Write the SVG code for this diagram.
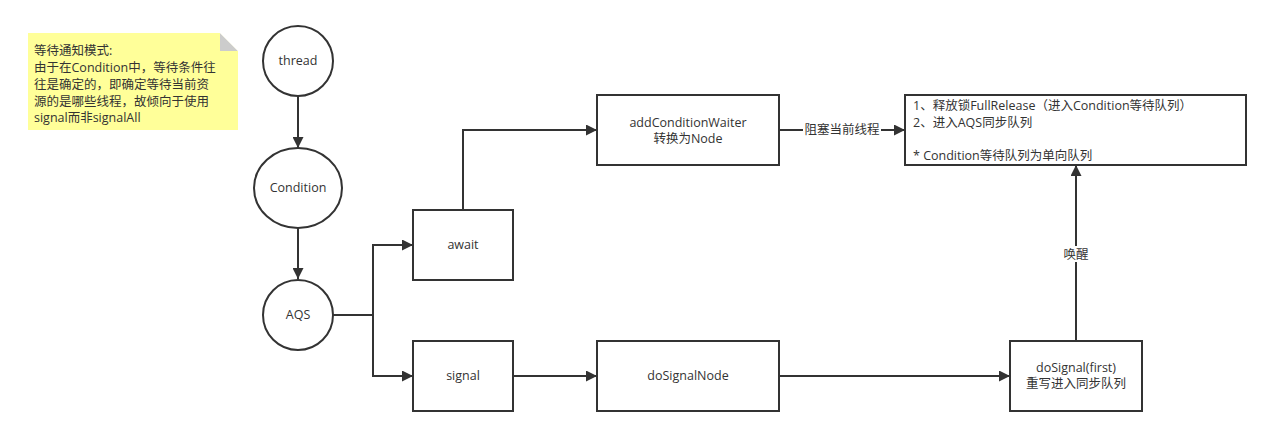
<svg xmlns="http://www.w3.org/2000/svg" width="1272" height="436" viewBox="0 0 1272 436">
<style>
.s{fill:#ffffff;stroke:#333333;stroke-width:2}
.c{fill:none;stroke:#333333;stroke-width:2}
text{font-family:"Open Sans","Noto Sans CJK SC",sans-serif;font-size:12.5px;fill:#333333}
.m{text-anchor:middle}
</style>
<defs>
<marker id="a" viewBox="0 0 10 10" refX="10" refY="5" markerWidth="5.5" markerHeight="5.5" orient="auto" markerUnits="strokeWidth">
<path d="M0,0 L10,5 L0,10 Z" fill="#333333"/>
</marker>
</defs>
<rect width="1272" height="436" fill="#ffffff"/>
<g id="note">
<path d="M28,33 L220,33 L238,51 L238,130 L28,130 Z" fill="#ffff99" stroke="none"/>
<path d="M220,33 L238,51 L220,51 Z" fill="#cccccc"/>
<path d="M220,33 L238,51 L238,33 Z" fill="#ffffff"/>
<text x="34" y="55">等待通知模式:</text>
<text x="34" y="72">由于在Condition中，等待条件往</text>
<text x="34" y="89">往是确定的，即确定等待当前资</text>
<text x="34" y="106">源的是哪些线程，故倾向于使用</text>
<text x="34" y="122">signal而非signalAll</text>
</g>
<g id="connectors">
<path class="c" d="M298,96 L298,148" marker-end="url(#a)"/>
<path class="c" d="M298,228 L298,279" marker-end="url(#a)"/>
<path class="c" d="M333,315 L373,315 L373,245 L413,245" marker-end="url(#a)"/>
<path class="c" d="M373,315 L373,376 L413,376" marker-end="url(#a)"/>
<path class="c" d="M463,209 L463,130 L597,130" marker-end="url(#a)"/>
<path class="c" d="M779,130 L905,130" marker-end="url(#a)"/>
<path class="c" d="M513,376 L597,376" marker-end="url(#a)"/>
<path class="c" d="M779,376 L1010,376" marker-end="url(#a)"/>
<path class="c" d="M1076,341 L1076,165" marker-end="url(#a)"/>
<rect x="803" y="122" width="78" height="16" fill="#ffffff"/>
<text class="m" x="842" y="134">阻塞当前线程</text>
<rect x="1060" y="246" width="32" height="16" fill="#ffffff"/>
<text class="m" x="1076" y="259">唤醒</text>
</g>
<g id="thread">
<circle class="s" cx="298" cy="61" r="35"/>
<text class="m" x="298" y="65">thread</text>
</g>
<g id="condition">
<ellipse class="s" cx="298" cy="188" rx="44" ry="40"/>
<text class="m" x="298" y="192">Condition</text>
</g>
<g id="aqs">
<circle class="s" cx="298" cy="315" r="35"/>
<text class="m" x="298" y="319">AQS</text>
</g>
<g id="await">
<rect class="s" x="413" y="210" width="100" height="70"/>
<text class="m" x="463" y="249">await</text>
</g>
<g id="signal">
<rect class="s" x="413" y="341" width="100" height="70"/>
<text class="m" x="463" y="380">signal</text>
</g>
<g id="addConditionWaiter">
<rect class="s" x="597" y="95" width="182" height="70"/>
<text class="m" x="688" y="127">addConditionWaiter</text>
<text class="m" x="688" y="143">转换为Node</text>
</g>
<g id="info">
<rect class="s" x="905" y="95" width="341" height="70"/>
<text x="913" y="110">1、释放锁FullRelease（进入Condition等待队列）</text>
<text x="913" y="127">2、进入AQS同步队列</text>
<text x="913" y="160">* Condition等待队列为单向队列</text>
</g>
<g id="doSignalNode">
<rect class="s" x="597" y="341" width="182" height="70"/>
<text class="m" x="688" y="380">doSignalNode</text>
</g>
<g id="doSignal">
<rect class="s" x="1010" y="341" width="132" height="70"/>
<text class="m" x="1076" y="372">doSignal(first)</text>
<text class="m" x="1076" y="388">重写进入同步队列</text>
</g>
</svg>
